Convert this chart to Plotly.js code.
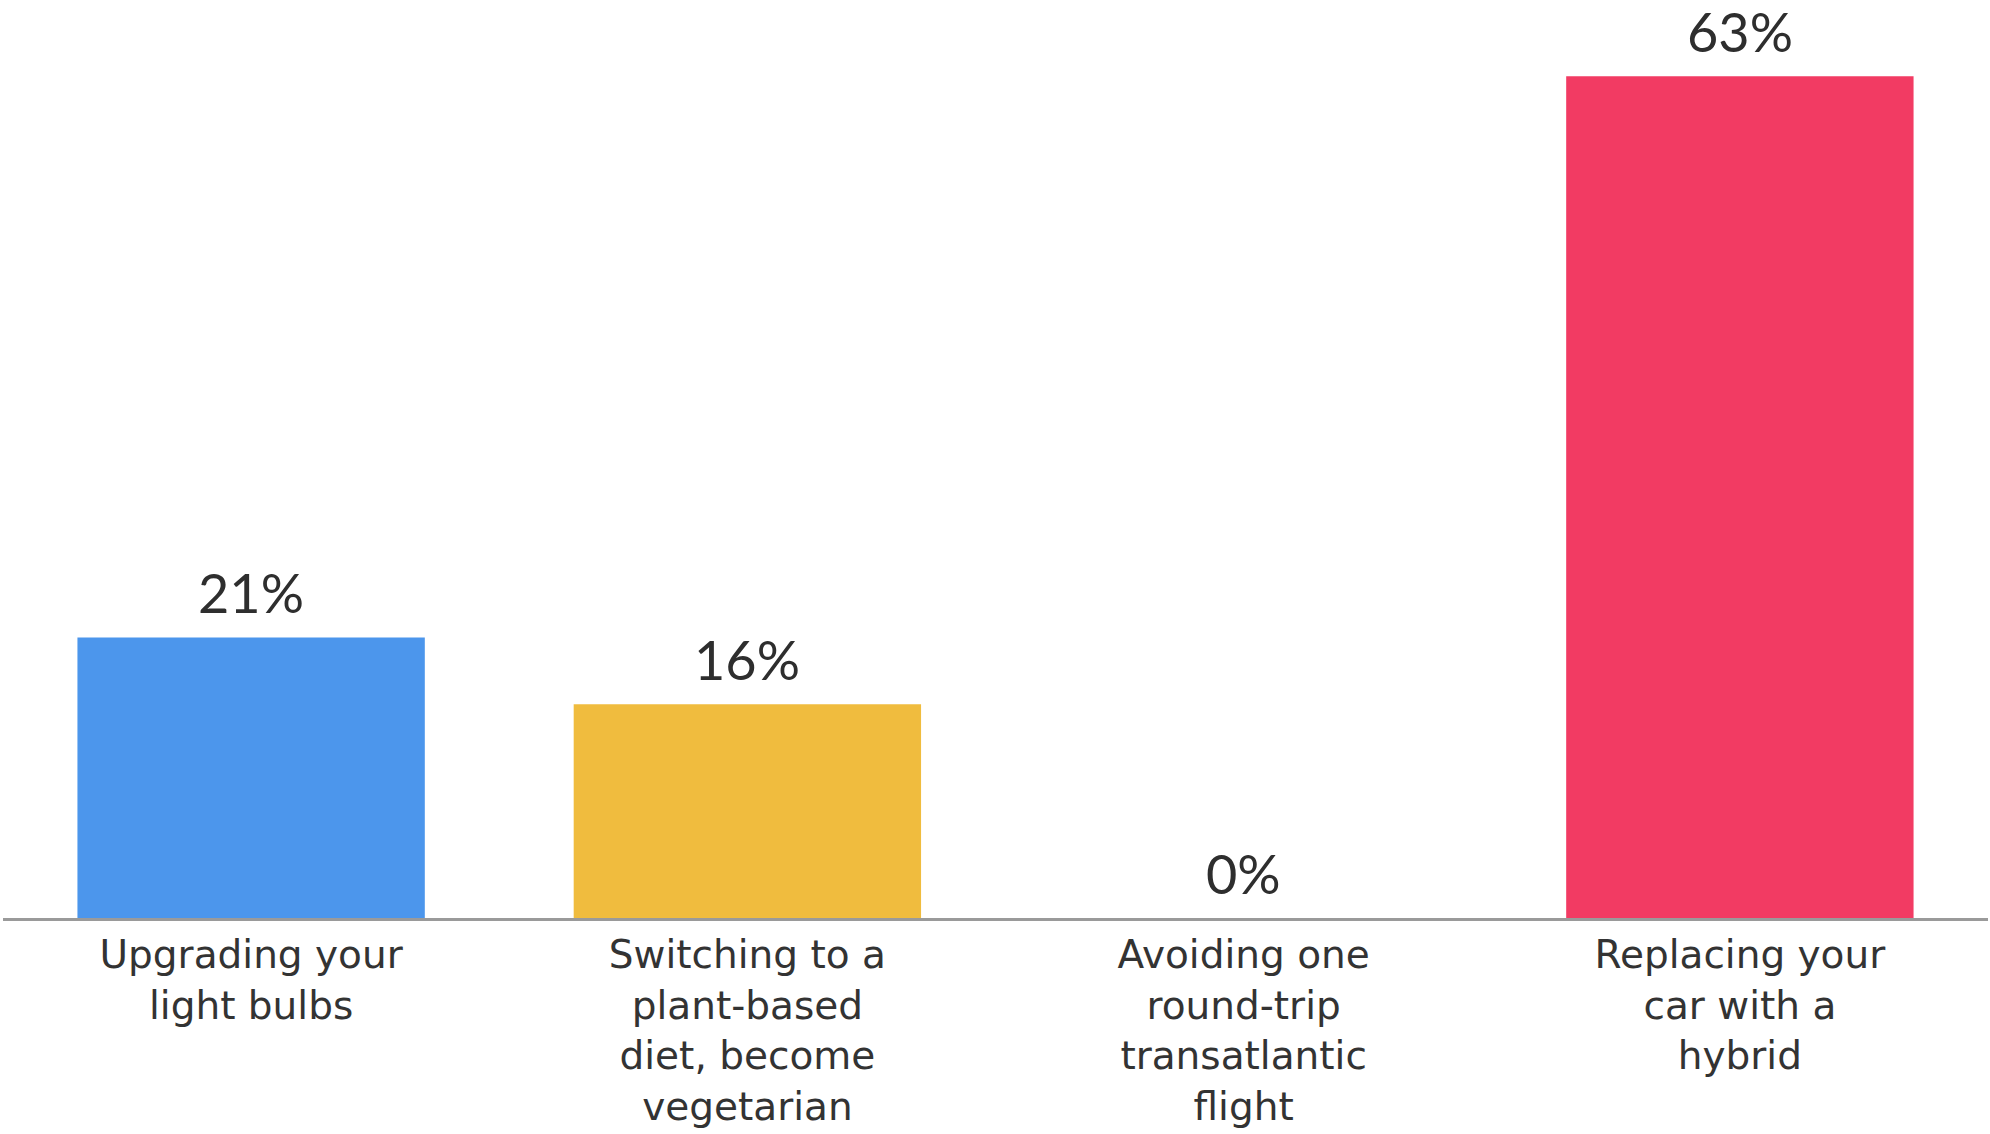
<!DOCTYPE html>
<html>
<head>
<meta charset="utf-8">
<script src="https://cdn.plot.ly/plotly-3.0.1.min.js"></script>
<style>
html, body { margin: 0; padding: 0; background: #ffffff; }
#chart { width: 1990px; height: 1134px; }
</style>
</head>
<body>
<div id="chart"></div>
<script>
const categories = [
  "Upgrading your<br>light bulbs",
  "Switching to a<br>plant-based<br>diet, become<br>vegetarian",
  "Avoiding one<br>round-trip<br>transatlantic<br>flight",
  "Replacing your<br>car with a<br>hybrid"
];
const values = [21, 16, 0, 63];
const valueLabels = ["21%", "16%", "0%", "63%"];
const barColors = ["#4C96EC", "#F0BC3E", "#F0BC3E", "#F23B63"];

const trace = {
  type: "bar",
  x: categories,
  y: values,
  marker: { color: barColors },
  hoverinfo: "none"
};

const annotations = categories.map((c, i) => ({
  x: c,
  y: values[i],
  xref: "x",
  yref: "y",
  text: valueLabels[i],
  showarrow: false,
  xanchor: "center",
  yanchor: "bottom",
  yshift: 10,
  font: { family: "Lato, sans-serif", size: 54, color: "#2e2e2e" }
}));

const layout = {
  width: 1990,
  height: 1134,
  margin: { l: 3, r: 2, t: 0, b: 216 },
  paper_bgcolor: "#ffffff",
  plot_bgcolor: "#ffffff",
  bargap: 0.30,
  showlegend: false,
  annotations: annotations,
  xaxis: {
    showline: true,
    linecolor: "#9a9a9a",
    linewidth: 3,
    showgrid: false,
    zeroline: false,
    ticks: "",
    ticklabelstandoff: 0,
    tickfont: { family: "DejaVu Sans, sans-serif", size: 39, color: "#333333" },
    fixedrange: true
  },
  yaxis: {
    range: [0, 68.7],
    visible: false,
    showgrid: false,
    zeroline: false,
    fixedrange: true
  }
};

Plotly.newPlot("chart", [trace], layout, { displayModeBar: false, staticPlot: true });
</script>
</body>
</html>
